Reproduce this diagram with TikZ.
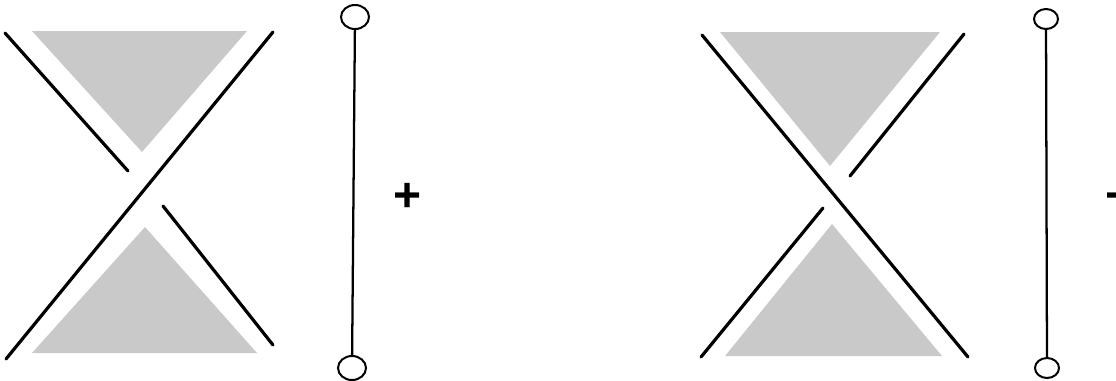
\documentclass[tikz,border=0pt]{standalone}
\usepackage{fontspec}
\setmainfont{Liberation Sans}
\usetikzlibrary{shapes.geometric}
\begin{document}
\begin{tikzpicture}[x=0.75pt,y=-0.75pt,
  strand/.style={line width=2.4pt,line cap=round},
  shade/.style={fill=black!21,draw=none},
  rod/.style={line width=1.7pt},
  endL/.style={ellipse,draw,line width=1.5pt,inner sep=0pt,minimum width=21pt,minimum height=18pt},
  endR/.style={ellipse,draw,line width=1.5pt,inner sep=0pt,minimum width=18pt,minimum height=15pt},
  sign/.style={font=\fontsize{36}{36}\selectfont\bfseries,inner sep=0pt}]
\useasboundingbox (0,0) rectangle (1116,380);
% left crossing
\fill[shade] (32,31) -- (247,31) -- (142,152) -- cycle;
\fill[shade] (145,227) -- (257,353) -- (32,353) -- cycle;
\draw[strand] (273,32) -- (6,359);
\draw[strand] (5,33) -- (128,171);
\draw[strand] (163,206) -- (273,345);
% left rod
\node[endL] (lt) at (355,17) {};
\node[endL] (lb) at (352,368) {};
\draw[rod] (lt) -- (lb);
\node[sign] (plus) at (408,197) {+};
% right crossing
\fill[shade] (720,32) -- (940,32) -- (830,166) -- cycle;
\fill[shade] (832,224) -- (942,356) -- (725,356) -- cycle;
\draw[strand] (702,35) -- (968,357);
\draw[strand] (964,34) -- (850,176);
\draw[strand] (823,208) -- (701,357);
% right rod
\node[endR] (rt) at (1046,19) {};
\node[endR] (rb) at (1047,368) {};
\draw[rod] (rt) -- (rb);
\node[sign] (minus) at (1119,202) {−};
\end{tikzpicture}
\end{document}
